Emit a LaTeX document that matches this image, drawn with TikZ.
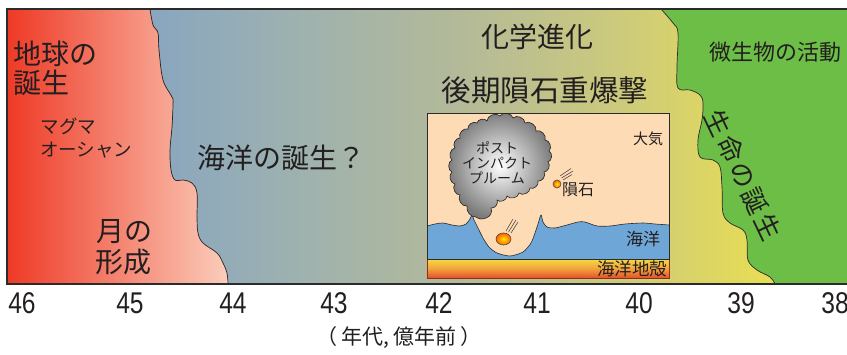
\documentclass[tikz,border=0pt]{standalone}
\usepackage{fontspec}
\setmainfont{Noto Sans CJK JP}
\newfontfamily\numfont[FakeStretch=0.82]{Liberation Sans}
\newfontfamily\spacedfont[LetterSpace=11]{Noto Sans CJK JP}

\definecolor{ink}{HTML}{231F20}
\definecolor{frameline}{HTML}{2B2B2B}
\definecolor{redL}{HTML}{EE3A26}
\definecolor{redR}{HTML}{FBCDBB}
\definecolor{mA}{HTML}{89A6C0}
\definecolor{mB}{HTML}{9FB2AE}
\definecolor{mC}{HTML}{B4BA98}
\definecolor{mD}{HTML}{CCCA7C}
\definecolor{mE}{HTML}{E9DE52}
\definecolor{lifegreen}{HTML}{6CBE46}
\definecolor{sky}{HTML}{FDDBB5}
\definecolor{sea}{HTML}{6FA6D8}
\definecolor{crustTop}{HTML}{F5DA3F}
\definecolor{crustMid}{HTML}{F2A23E}
\definecolor{crustBot}{HTML}{E4502B}
\definecolor{crustEdge}{HTML}{8E2E1C}

% horizontal blend for the middle era (central 50bp span maps onto the path)
\pgfdeclarehorizontalshading{midgrad}{100bp}{color(0bp)=(mA); color(25bp)=(mA);
  color(37.5bp)=(mB); color(50bp)=(mC); color(62.5bp)=(mD); color(75bp)=(mE); color(100bp)=(mE)}

\tikzset{
  txt/.style={text=ink, inner sep=0pt, outer sep=0pt},
  huge/.style={txt, font=\fontsize{28}{29}\selectfont},
  title/.style={txt, font=\fontsize{29.5}{31}\selectfont},
  mid/.style={txt, font=\fontsize{22}{24}\selectfont},
  small/.style={txt, font=\fontsize{18.5}{24}\selectfont},
  inset/.style={txt, font=\fontsize{16}{17}\selectfont},
  plume/.style={txt, font=\fontsize{14}{15}\selectfont, align=center},
  tick/.style={txt, font=\numfont\fontsize{30}{32}\selectfont},
  boundary/.style={draw=frameline, line width=0.7pt},
  streak/.style={draw=ink!85, line width=0.55pt},
  meteor/.style={draw=ink!80, line width=0.6pt, inner color=yellow!85!orange, outer color=orange!75!red},
}

\begin{document}
\begin{tikzpicture}[x=1pt,y=-1pt]
\useasboundingbox (0,0) rectangle (847,354);

% ---- era bands ----
\fill[shading=midgrad] (150,9) rectangle (775,284);

\fill[left color=redL, right color=redR]
  (7,9) -- plot[smooth, tension=0.6] coordinates {(150,9) (153,25) (158,33) (159,50) (163,80) (172,97) (173,103) (172,127) (170,150) (171,170) (175,180) (183,180) (192,183) (197,193) (197,217) (198,233) (203,243) (217,253) (223,263) (227,273) (228,284)} -- (7,284) -- cycle;

\fill[lifegreen]
  (847,9) -- plot[smooth, tension=0.6] coordinates {(661,9) (673,23) (678,33) (677,67) (678,88) (690,90) (700,95) (703,103) (702,120) (698,140) (700,157) (713,160) (720,167) (722,187) (723,213) (730,223) (743,230) (747,240) (748,260) (757,270) (770,277) (775,284)} -- (847,284) -- cycle;

\draw[boundary] plot[smooth, tension=0.6] coordinates {(150,9) (153,25) (158,33) (159,50) (163,80) (172,97) (173,103) (172,127) (170,150) (171,170) (175,180) (183,180) (192,183) (197,193) (197,217) (198,233) (203,243) (217,253) (223,263) (227,273) (228,284)};
\draw[boundary] plot[smooth, tension=0.6] coordinates {(661,9) (673,23) (678,33) (677,67) (678,88) (690,90) (700,95) (703,103) (702,120) (698,140) (700,157) (713,160) (720,167) (722,187) (723,213) (730,223) (743,230) (747,240) (748,260) (757,270) (770,277) (775,284)};

% outer frame (open on the right)
\draw[frameline, line width=1.3pt] (847,9) -- (7,9) -- (7,284) -- (847,284);

% ---- era labels ----
\node[huge, anchor=west] (birthA) at (13,54) {地球の};
\node[huge, anchor=west] (birthB) at (13,83) {誕生};
\node[small, anchor=west] (magmaA) at (41,126) {マグマ};
\node[small, anchor=west] (magmaB) at (40,150) {オーシャン};
\node[huge, anchor=west] (moonA) at (96,232) {月の};
\node[huge, anchor=west] (moonB) at (95,262) {形成};
\node[huge, anchor=west] (ocean) at (197,158) {海洋の誕生？};
\node[huge] (chem) at (537,37) {化学進化};
\node[title] (lhb) at (545,90) {後期隕石重爆撃};
\node[mid] (microbe) at (775,52) {微生物の活動};
\node[txt, font=\spacedfont\fontsize{26}{28}\selectfont, rotate=-64.5] (life) at (743,175) {生命の誕生};

% ---- impact inset ----
\fill[sky] (427,113) rectangle (669,278);
\fill[sea] plot[smooth, tension=0.45] coordinates {(427,226) (435,224) (443,223) (452,225) (460,226) (466,224) (470,219) (472,215) (474,220) (478,228) (483,238) (489,247) (497,253) (510,256) (523,252) (531,243) (535,233) (538,224) (541,215) (543,222) (547,227) (555,228) (567,225) (578,222) (585,222) (597,226) (610,226) (625,224) (643,223) (655,224) (669,225)} -- (669,259) -- (427,259) -- cycle;
\draw[boundary, line width=0.6pt] plot[smooth, tension=0.45] coordinates {(427,226) (435,224) (443,223) (452,225) (460,226) (466,224) (470,219) (472,215) (474,220) (478,228) (483,238) (489,247) (497,253) (510,256) (523,252) (531,243) (535,233) (538,224) (541,215) (543,222) (547,227) (555,228) (567,225) (578,222) (585,222) (597,226) (610,226) (625,224) (643,223) (655,224) (669,225)};

% oceanic crust
\fill[top color=crustTop, bottom color=crustBot, middle color=crustMid] (427,259) rectangle (669,278);
\draw[crustEdge, line width=0.9pt] (427,259) -- (427,278) -- (669,278) -- (669,259);
\draw[frameline, line width=0.9pt] (427,259) -- (427,113) -- (669,113) -- (669,259) -- cycle;

% post-impact plume
\draw[draw=ink, line width=0.6pt, inner color=white, outer color=black!52]
  (487,121) to[bend left=70] (500,116) to[bend left=70] (513,118) to[bend left=70] (525,123)
  to[bend left=70] (536,131) to[bend left=70] (545,140) to[bend left=70] (549,151)
  to[bend left=70] (548,162) to[bend left=70] (544,172) to[bend left=70] (538,181)
  to[bend left=70] (530,188) to[bend left=70] (519,193) to[bend left=70] (507,196)
  to[bend left=70] (497,200) to[bend left=65] (491,208) to[bend left=50] (486,218)
  to[bend left=30] (476,217) to[bend left=50] (467,206) to[bend left=70] (460,195)
  to[bend left=70] (455,184) to[bend left=70] (452,172) to[bend left=70] (452,160)
  to[bend left=70] (455,148) to[bend left=70] (460,138) to[bend left=70] (468,129)
  to[bend left=70] (477,123) to[bend left=70] (487,121) -- cycle;
\node[plume] (plume) at (497,163) {ポスト\\インパクト\\プルーム};

% meteorites
\draw[meteor] (503.5,239) ellipse [x radius=7.5, y radius=6];
\coordinate (sA1) at (506,231); \coordinate (sA2) at (513,219);
\coordinate (sB1) at (508.5,232); \coordinate (sB2) at (516,220);
\coordinate (sC1) at (511,233); \coordinate (sC2) at (518,222);
\draw[streak] (sA1) -- (sA2); \draw[streak] (sB1) -- (sB2); \draw[streak] (sC1) -- (sC2);

\draw[meteor] (557,184) circle [radius=4];
\coordinate (tA1) at (560,176); \coordinate (tA2) at (571,168.5);
\coordinate (tB1) at (561.5,178); \coordinate (tB2) at (573,171);
\coordinate (tC1) at (563,180); \coordinate (tC2) at (572,174.5);
\draw[streak] (tA1) -- (tA2); \draw[streak] (tB1) -- (tB2); \draw[streak] (tC1) -- (tC2);

\node[inset, font=\fontsize{15}{16}\selectfont] (air) at (648,139) {大気};
\node[inset] (rock) at (578,190) {隕石};
\node[inset, font=\fontsize{17}{18}\selectfont] (sealbl) at (643,239) {海洋};
\node[inset, font=\fontsize{17.5}{18}\selectfont] (crustlbl) at (632,269) {海洋地殻};

% ---- time axis ----
\node[tick] (t46) at (22,303) {46};
\node[tick] (t45) at (130,303) {45};
\node[tick] (t44) at (233,303) {44};
\node[tick] (t43) at (334,303) {43};
\node[tick] (t42) at (439,303) {42};
\node[tick] (t41) at (537,303) {41};
\node[tick] (t40) at (639,303) {40};
\node[tick] (t39) at (741,303) {39};
\node[tick] (t38) at (835,303) {38};
\node[txt, font=\fontsize{21}{22}\selectfont] (unit) at (399,338) {（\,年代, 億年前\,）};
\end{tikzpicture}
\end{document}
